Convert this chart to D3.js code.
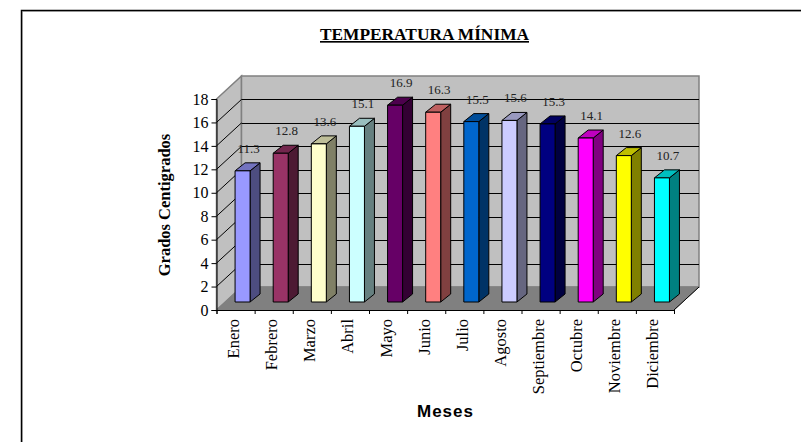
<!DOCTYPE html>
<html>
<head>
<meta charset="utf-8">
<script src="https://cdn.jsdelivr.net/npm/d3@7"></script>
<style>
  html, body { margin: 0; padding: 0; background: #fff; }
  text { font-family: "Liberation Serif", serif; fill: #000; }
</style>
</head>
<body>
<div id="chart"></div>
<script>
// data
const months = ["Enero", "Febrero", "Marzo", "Abril", "Mayo", "Junio", "Julio", "Agosto", "Septiembre", "Octubre", "Noviembre", "Diciembre"];
const tempMin = [11.3, 12.8, 13.6, 15.1, 16.9, 16.3, 15.5, 15.6, 15.3, 14.1, 12.6, 10.7];
const barColors = ["#9999ff", "#993366", "#ffffcc", "#ccffff", "#660066", "#ff8080", "#0066cc", "#ccccff", "#000080", "#ff00ff", "#ffff00", "#00ffff"];
const yTicks = [0, 2, 4, 6, 8, 10, 12, 14, 16, 18];

const width = 801, height = 442;
const svg = d3.select("#chart").append("svg")
    .attr("width", width)
    .attr("height", height)
    .style("display", "block");

// page frame: only left and top edges are visible
svg.append("path")
    .attr("d", `M22.5,${height} V11.5 H${width}`)
    .attr("fill", "none").attr("stroke", "#c8c8c8").attr("stroke-width", 1);
svg.append("path")
    .attr("d", `M21.5,${height} V10.5 H${width}`)
    .attr("fill", "none").attr("stroke", "#000").attr("stroke-width", 1.5);

// scales (front plane of the 3d box)
const x = d3.scaleBand().domain(months).range([216.5, 674]);
const y = d3.scaleLinear().domain([0, 18]).range([310, 99]);
const depthX = 25, depthY = -23;   // box depth
const barDX = 10, barDY = -8;      // bar depth
const barBase = 8;                 // bars stand a little behind the front edge

// walls
const x0 = x.range()[0], x1 = x.range()[1];
const yB = y(0), yT = y(18);
const poly = (pts, fill, stroke, sw) => svg.append("polygon")
    .attr("points", pts.map(p => p.join(",")).join(" "))
    .attr("fill", fill)
    .attr("stroke", stroke || "none")
    .attr("stroke-width", sw || 1);

poly([[x0, yB], [x0 + depthX, yB + depthY], [x0 + depthX, yT + depthY], [x0, yT]], "#c0c0c0", "#808080", 1.5);
poly([[x0 + depthX, yB + depthY], [x1 + depthX, yB + depthY], [x1 + depthX, yT + depthY], [x0 + depthX, yT + depthY]], "#c0c0c0", "#808080", 1.5);
poly([[x0, yB], [x1, yB], [x1 + depthX, yB + depthY], [x0 + depthX, yB + depthY]], "#808080", "#808080");

// gridlines on the side and back wall
yTicks.slice(1, -1).forEach(t => {
  svg.append("line")
      .attr("x1", x0).attr("y1", y(t))
      .attr("x2", x0 + depthX).attr("y2", y(t) + depthY)
      .attr("stroke", "#000");
  svg.append("line")
      .attr("x1", x0 + depthX).attr("y1", Math.round(y(t) + depthY) + 0.5)
      .attr("x2", x1 + depthX).attr("y2", Math.round(y(t) + depthY) + 0.5)
      .attr("stroke", "#000");
});

// floor edge on the right side
svg.append("line")
    .attr("x1", x1).attr("y1", yB)
    .attr("x2", x1 + depthX).attr("y2", yB + depthY)
    .attr("stroke", "#000");

// axes
const yAxis = d3.axisLeft(y).tickValues(yTicks).tickSize(5).tickPadding(3);
const gy = svg.append("g").attr("transform", `translate(${x0},0)`).call(yAxis);
gy.selectAll("text").attr("font-size", 16).style("font-family", '"Liberation Serif", serif');

const xEdge = d3.scaleLinear().domain([0, months.length]).range([x0, x1]);
const xAxis = d3.axisBottom(xEdge).tickValues(d3.range(months.length + 1)).tickSize(4).tickFormat("");
svg.append("g").attr("transform", `translate(0,${yB})`).call(xAxis);
svg.selectAll(".domain").attr("stroke", "#000");

// month labels, rotated
svg.selectAll(".month")
    .data(months)
    .enter().append("text")
    .attr("class", "month")
    .attr("font-size", 16.5)
    .attr("text-anchor", "end")
    .attr("transform", d => `translate(${x(d) + x.bandwidth() / 2 + 3.5},${yB + 9}) rotate(-90)`)
    .text(d => d);

// bars
const barW = 15;
const bars = svg.selectAll(".bar")
    .data(months.map((m, i) => ({m, v: tempMin[i], c: barColors[i]})))
    .enter().append("g")
    .attr("class", "bar");

bars.each(function(d) {
  const g = d3.select(this);
  const l = x(d.m) + (x.bandwidth() - barW) / 2 + 7;
  const r = l + barW;
  const b = yB - barBase;
  const t = y(d.v) - barBase + 1.3;
  const c = d3.rgb(d.c);
  const side = d3.rgb(c.r / 2, c.g / 2, c.b / 2).formatHex();
  const top = d3.rgb(c.r * 0.75, c.g * 0.75, c.b * 0.75).formatHex();
  const face = (pts, fill) => g.append("polygon")
      .attr("points", pts.map(p => p.join(",")).join(" "))
      .attr("fill", fill)
      .attr("stroke", "#000")
      .attr("stroke-width", 1)
      .attr("stroke-linejoin", "round");
  face([[r, b], [r + barDX, b + barDY], [r + barDX, t + barDY], [r, t]], side);
  face([[l, t], [r, t], [r + barDX, t + barDY], [l + barDX, t + barDY]], top);
  face([[l, b], [r, b], [r, t], [l, t]], d.c);
  g.append("text")
      .attr("x", (l + r) / 2 + 6)
      .attr("y", t + barDY - 10)
      .attr("text-anchor", "middle")
      .attr("font-size", 13)
      .style("fill", "#222")
      .text(d3.format(".1f")(d.v));
});

// titles
svg.append("text")
    .attr("x", 424.5).attr("y", 40)
    .attr("text-anchor", "middle")
    .attr("font-size", 16.5)
    .attr("font-weight", "bold")
    .attr("text-decoration", "underline")
    .attr("textLength", 209)
    .attr("lengthAdjust", "spacingAndGlyphs")
    .text("TEMPERATURA MÍNIMA");

svg.append("text")
    .attr("transform", "translate(170,205) rotate(-90)")
    .attr("text-anchor", "middle")
    .attr("font-size", 16.5)
    .attr("font-weight", "bold")
    .text("Grados Centigrados");

svg.append("text")
    .attr("x", 445.5).attr("y", 417)
    .attr("text-anchor", "middle")
    .attr("font-size", 17)
    .attr("font-weight", "bold")
    .style("font-family", '"Liberation Sans", sans-serif')
    .attr("letter-spacing", 1)
    .text("Meses");
</script>
</body>
</html>
